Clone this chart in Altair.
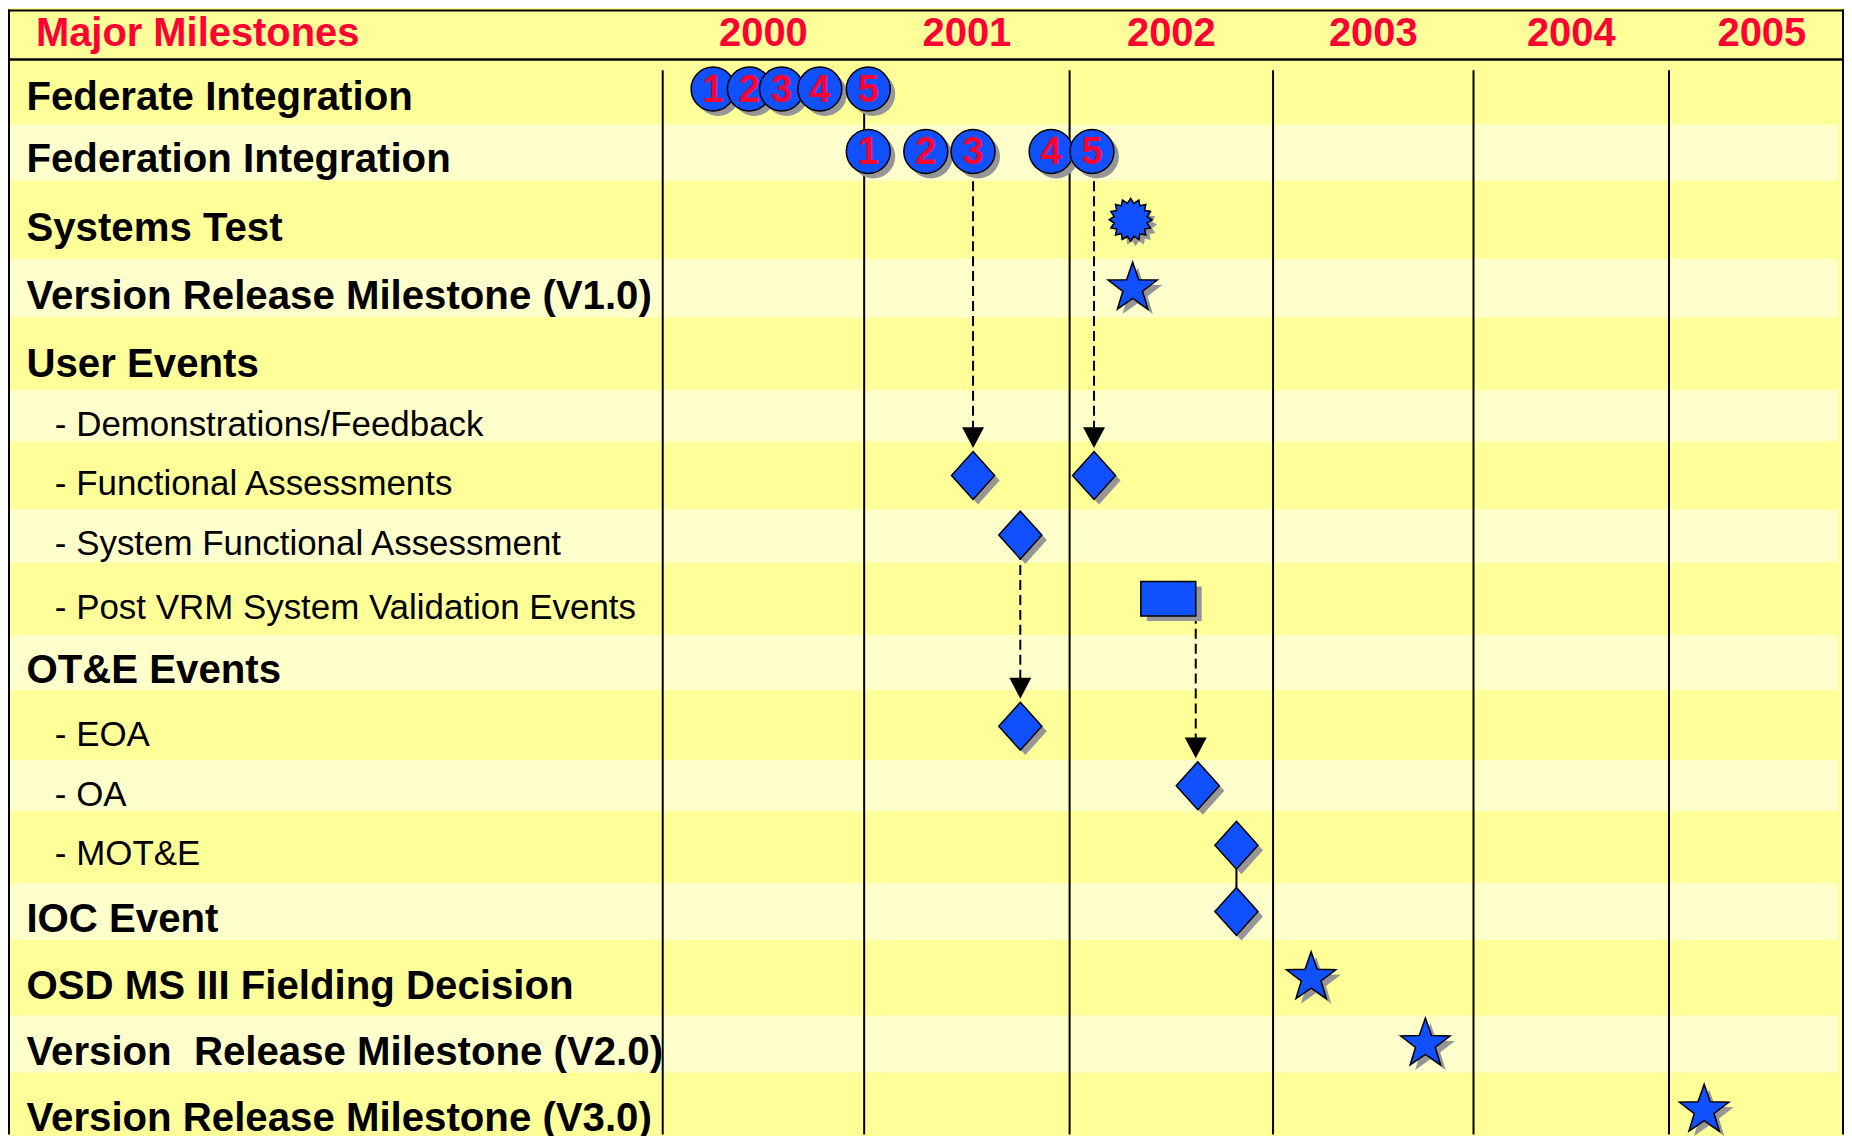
import math
import altair as alt
import pandas as pd

# ---------------- data ----------------
ROW_LABELS = [
    "Federate Integration",
    "Federation Integration",
    "Systems Test",
    "Version Release Milestone (V1.0)",
    "User Events",
    "- Demonstrations/Feedback",
    "- Functional Assessments",
    "- System Functional Assessment",
    "- Post VRM System Validation Events",
    "OT&E Events",
    "- EOA",
    "- OA",
    "- MOT&E",
    "IOC Event",
    "OSD MS III Fielding Decision",
    "Version\u00a0 Release Milestone (V2.0)",
    "Version Release Milestone (V3.0)",
]
ROW_IS_SUB = [False, False, False, False, False, True, True, True, True,
              False, True, True, True, False, False, False, False]
TITLE = ["Major Milestones"]
YEARS = [2000, 2001, 2002, 2003, 2004, 2005]

FEDERATE_NUM = ["1", "2", "3", "4", "5"]
FEDERATE_X = [2000.25, 2000.43, 2000.59, 2000.78, 2001.02]
FEDERATION_NUM = ["1", "2", "3", "4", "5"]
FEDERATION_X = [2001.02, 2001.30, 2001.53, 2001.91, 2002.11]

DIAMOND_ROW = [7, 7, 8, 11, 12, 13, 14]
DIAMOND_X = [2001.53, 2002.12, 2001.76, 2001.76, 2002.63, 2002.82, 2002.82]

STAR_ROW = [4, 15, 16, 17]
STAR_X = [2002.31, 2003.19, 2003.76, 2005.18]

BURST_ROW = [3]
BURST_X = [2002.30]

BAR_ROW = [9]
BAR_START = [2002.35]
BAR_END = [2002.62]

ARROW_X = [2001.53, 2002.12, 2001.76, 2002.62]
ARROW_FROM = [2, 2, 8, 9]
ARROW_TO = [7, 7, 11, 12]

LINK_X = [2002.82]
LINK_FROM = [13]
LINK_TO = [14]

# ---------------- layout / style ----------------
W, H = 1841, 1128
# the slide's year columns and rows are not evenly sized: piecewise-linear scales
X_DOMAIN = [2000, 2001, 2002, 2003, 2004, 2005, 2005.95]
X_RANGE = [656.5, 858.5, 1064.5, 1268.5, 1469.5, 1665.5, 1851.7]
X_END = X_DOMAIN[-1]
Y_DOMAIN = [-0.25, 1, 2, 5, 8, 11, 13, 17, 17.4]
Y_RANGE = [0, 79.7, 142.3, 347.8, 527, 718.6, 838, 1103.7, 1130.3]

DARK = "#FFFF99"
LIGHT = "#FFFFCC"
BLUE = "#1150FF"
RED = "#FF0033"
SHADOW = "#969696"
FONT = "Liberation Sans, Arial, Helvetica, sans-serif"


def star_path(n, r_in, rot=-90.0):
    pts = []
    for k in range(2 * n):
        r = 1.0 if k % 2 == 0 else r_in
        a = math.radians(rot + k * 180.0 / n)
        pts.append(f"{r * math.cos(a):.4f},{r * math.sin(a):.4f}")
    return "M" + "L".join(pts) + "Z"


STAR = star_path(5, 0.4)
BURST = star_path(16, 0.78)
DIAMOND = "M0,-1L0.9,0L0,1L-0.9,0Z"
TRI = "M-1,-0.95L1,-0.95L0,0.95Z"

XS = alt.Scale(domain=X_DOMAIN, range=X_RANGE, nice=False, zero=False)
YS = alt.Scale(domain=Y_DOMAIN, range=Y_RANGE, nice=False, zero=False)


def X(f):
    return alt.X(f, scale=XS, axis=None)


def Y(f):
    return alt.Y(f, scale=YS, axis=None)


rows_df = pd.DataFrame({"row": list(range(1, len(ROW_LABELS) + 1)),
                        "label": ROW_LABELS, "sub": ROW_IS_SUB})
light_df = rows_df[rows_df["row"] % 2 == 0]
years_df = pd.DataFrame({"year": YEARS})
dummy = pd.DataFrame({"k": [0]})

fed1 = pd.DataFrame({"x": FEDERATE_X, "n": FEDERATE_NUM, "row": [1] * 5})
fed2 = pd.DataFrame({"x": FEDERATION_X, "n": FEDERATION_NUM, "row": [2] * 5})
circles_df = pd.concat([fed1, fed2], ignore_index=True)
diam_df = pd.DataFrame({"x": DIAMOND_X, "row": DIAMOND_ROW})
star_df = pd.DataFrame({"x": STAR_X, "row": STAR_ROW})
burst_df = pd.DataFrame({"x": BURST_X, "row": BURST_ROW})
bar_df = pd.DataFrame({"x": BAR_START, "x2": BAR_END, "row": BAR_ROW})
arrow_df = pd.DataFrame({"x": ARROW_X, "from": ARROW_FROM, "to": ARROW_TO})
link_df = pd.DataFrame({"x": LINK_X, "from": LINK_FROM, "to": LINK_TO})

layers = []

# light bands
layers.append(
    alt.Chart(light_df).transform_calculate(
        y0="datum.row - 0.43", y1="datum.row + 0.43"
    ).mark_rect(color=LIGHT).encode(
        x=alt.value(0), x2=alt.value(W - 6), y=Y("y0:Q"), y2="y1:Q"
    )
)

# frame: top, left, right borders and header line
frame = alt.Chart(dummy)
layers.append(frame.mark_rule(color="black", strokeWidth=2).encode(
    x=alt.value(0), x2=alt.value(W), y=alt.value(1)))
layers.append(frame.mark_rule(color="black", strokeWidth=2).encode(
    x=alt.value(1), y=alt.value(0), y2=alt.value(H)))
layers.append(frame.mark_rule(color="black", strokeWidth=2).encode(
    x=alt.value(W - 1), y=alt.value(0), y2=alt.value(H)))
layers.append(frame.mark_rule(color="black", strokeWidth=2.5).encode(
    x=alt.value(0), x2=alt.value(W), y=alt.value(50)))

# year divider lines
layers.append(alt.Chart(years_df).mark_rule(color="black", strokeWidth=2).encode(
    x=X("year:Q"), y=alt.value(61), y2=alt.value(H)))

# dashed dependency arrows and solid link
layers.append(alt.Chart(arrow_df).mark_rule(
    color="black", strokeWidth=2, strokeDash=[10, 5], y2Offset=-40
).encode(x=X("x:Q"), y=Y("from:Q"), y2="to:Q"))
layers.append(alt.Chart(link_df).mark_rule(color="black", strokeWidth=2).encode(
    x=X("x:Q"), y=Y("from:Q"), y2="to:Q"))

# shadows
SH = dict(filled=True, color=SHADOW, opacity=1, xOffset=5, yOffset=5)
layers.append(alt.Chart(circles_df).mark_point(shape="circle", size=1940, **SH).encode(
    x=X("x:Q"), y=Y("row:Q")))
layers.append(alt.Chart(diam_df).mark_point(shape=DIAMOND, size=2304, **SH).encode(
    x=X("x:Q"), y=Y("row:Q")))
layers.append(alt.Chart(star_df).mark_point(shape=STAR, size=2704, **SH).encode(
    x=X("x:Q"), y=Y("row:Q")))
layers.append(alt.Chart(burst_df).mark_point(shape=BURST, size=1849, **SH).encode(
    x=X("x:Q"), y=Y("row:Q")))
layers.append(alt.Chart(bar_df).transform_calculate(
    y0="datum.row - 0.27", y1="datum.row + 0.27"
).mark_rect(color=SHADOW, xOffset=6, x2Offset=6, yOffset=5, y2Offset=5).encode(
    x=X("x:Q"), x2="x2:Q", y=Y("y0:Q"), y2="y1:Q"))

# symbols
SY = dict(filled=True, color=BLUE, stroke="black", strokeWidth=1.5, opacity=1)
layers.append(alt.Chart(bar_df).transform_calculate(
    y0="datum.row - 0.27", y1="datum.row + 0.27"
).mark_rect(color=BLUE, stroke="black", strokeWidth=1.5).encode(
    x=X("x:Q"), x2="x2:Q", y=Y("y0:Q"), y2="y1:Q"))
layers.append(alt.Chart(diam_df).mark_point(shape=DIAMOND, size=2304, **SY).encode(
    x=X("x:Q"), y=Y("row:Q")))
layers.append(alt.Chart(star_df).mark_point(shape=STAR, size=2704, **SY).encode(
    x=X("x:Q"), y=Y("row:Q")))
layers.append(alt.Chart(burst_df).mark_point(shape=BURST, size=1849, **SY).encode(
    x=X("x:Q"), y=Y("row:Q")))

# numbered circles (each circle drawn with its number)
for i in range(len(circles_df)):
    one = circles_df.iloc[[i]]
    layers.append(alt.Chart(one).mark_point(shape="circle", size=1940, **SY).encode(
        x=X("x:Q"), y=Y("row:Q")))
    layers.append(alt.Chart(one).mark_text(
        font=FONT, fontSize=38, fontWeight="bold", color=RED,
        align="center", baseline="middle", dy=2
    ).encode(x=X("x:Q"), y=Y("row:Q"), text="n:N"))

# arrowheads
layers.append(alt.Chart(arrow_df).mark_point(
    shape=TRI, size=484, filled=True, color="black", opacity=1, yOffset=-38
).encode(x=X("x:Q"), y=Y("to:Q")))

# row labels
layers.append(alt.Chart(rows_df).transform_filter("!datum.sub").mark_text(
    font=FONT, fontSize=40.3, fontWeight="bold", color="black",
    align="left", baseline="middle", dy=9
).encode(x=alt.value(18.5), y=Y("row:Q"), text="label:N"))
layers.append(alt.Chart(rows_df).transform_filter("datum.sub").mark_text(
    font=FONT, fontSize=35, color="black",
    align="left", baseline="middle", dy=9
).encode(x=alt.value(47), y=Y("row:Q"), text="label:N"))

# header texts
layers.append(alt.Chart(pd.DataFrame({"t": TITLE})).mark_text(
    font=FONT, fontSize=40, fontWeight="bold", color=RED,
    align="left", baseline="middle"
).encode(x=alt.value(28), y=alt.value(25), text="t:N"))
layers.append(alt.Chart(years_df).transform_calculate(
    xm=f"min(datum.year + 0.5, (datum.year + {X_END}) / 2)",
    lab="'' + datum.year"
).mark_text(
    font=FONT, fontSize=40, fontWeight="bold", color=RED,
    align="center", baseline="middle"
).encode(x=X("xm:Q"), y=alt.value(25), text="lab:N"))

chart = alt.layer(*layers).properties(
    width=W, height=H, padding=0, autosize="none", background=DARK
).configure_view(strokeWidth=0)

chart.save("out.html", embed_options={"renderer": "svg", "actions": False})
